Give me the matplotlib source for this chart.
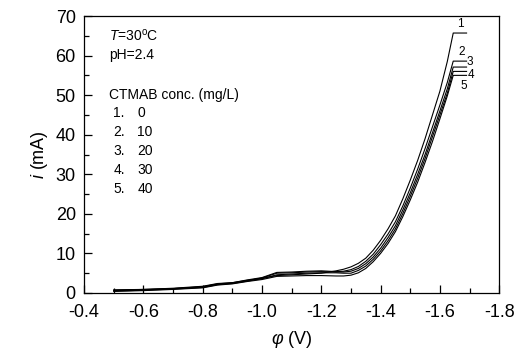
import numpy as np
import matplotlib
matplotlib.use("Agg")
import matplotlib.pyplot as plt
from matplotlib.ticker import MultipleLocator, FuncFormatter

plt.rcParams['font.family'] = ['Liberation Sans', 'DejaVu Sans']
plt.rcParams['mathtext.fontset'] = 'custom'
plt.rcParams['mathtext.rm'] = 'Liberation Sans'
plt.rcParams['mathtext.it'] = 'Liberation Sans:italic'

# potential (V)
phi = [-0.5, -0.6, -0.7, -0.8, -0.85, -0.9, -0.95, -1.0, -1.05, -1.1, -1.15,
       -1.2, -1.25, -1.275, -1.3, -1.325, -1.35, -1.375, -1.4, -1.425, -1.45,
       -1.475, -1.5, -1.525, -1.55, -1.575, -1.6, -1.625, -1.645]

# current (mA) for each CTMAB concentration
i_0 = [0.8, 0.9, 1.1, 1.6, 2.3, 2.6, 3.2, 3.7, 4.4, 4.6, 4.8, 5.0, 5.6, 6.0,
       6.6, 7.5, 8.8, 10.8, 13.3, 16.2, 19.5, 23.8, 28.5, 33.5, 39.0, 45.0,
       51.0, 58.5, 65.7]
i_10 = [0.7, 0.9, 1.2, 1.7, 2.4, 2.6, 3.3, 3.9, 5.2, 5.3, 5.5, 5.6, 5.4, 5.5,
        5.9, 6.7, 8.0, 9.8, 12.2, 14.9, 18.0, 22.0, 26.5, 31.3, 36.5, 42.0,
        47.5, 53.2, 58.6]
i_20 = [0.6, 0.8, 1.1, 1.5, 2.2, 2.5, 3.1, 3.8, 5.0, 5.1, 5.3, 5.4, 5.3, 5.3,
        5.5, 6.2, 7.4, 9.1, 11.3, 14.0, 17.0, 21.0, 25.3, 30.0, 35.0, 40.5,
        46.0, 51.6, 57.1]
i_30 = [0.5, 0.7, 1.0, 1.4, 2.1, 2.4, 3.0, 3.6, 4.6, 4.8, 5.0, 5.1, 5.1, 5.0,
        5.0, 5.7, 6.8, 8.5, 10.6, 13.2, 16.2, 20.1, 24.4, 29.0, 34.0, 39.5,
        45.0, 50.5, 56.0]
i_40 = [0.4, 0.6, 0.9, 1.3, 2.0, 2.3, 2.9, 3.4, 4.2, 4.3, 4.4, 4.4, 4.3, 4.3,
        4.5, 5.1, 6.2, 7.9, 10.0, 12.5, 15.5, 19.3, 23.5, 28.0, 33.0, 38.3,
        44.0, 49.8, 55.0]
curves = [i_0, i_10, i_20, i_30, i_40]

conc = ['0', '10', '20', '30', '40']
curve_labels = ['1', '2', '3', '4', '5']
label_x = [-1.669, -1.672, -1.702, -1.704, -1.679]
label_y = [67.9, 60.9, 58.3, 55.0, 52.3]
leader_end = -1.69

fig = plt.figure(figsize=(5.26, 3.56), dpi=100)
ax = fig.add_axes([0.160, 0.177, 0.789, 0.778])

for ys, lab, lx, ly in zip(curves, curve_labels, label_x, label_y):
    ax.plot(phi + [leader_end], ys + [ys[-1]], color='black', lw=0.8)
    ax.text(lx, ly, lab, fontsize=8.5, ha='center', va='center')

ax.set_xlim(-0.4, -1.8)
ax.set_ylim(0, 70)
ax.xaxis.set_major_locator(MultipleLocator(0.2))
ax.xaxis.set_minor_locator(MultipleLocator(0.1))
ax.yaxis.set_major_locator(MultipleLocator(10))
ax.yaxis.set_minor_locator(MultipleLocator(5))
ax.xaxis.set_major_formatter(FuncFormatter(lambda v, p: f"{v:.1f}"))
ax.tick_params(which='both', direction='in', top=False, right=False, labelsize=13)
ax.tick_params(axis='x', which='major', pad=8)
ax.tick_params(axis='y', which='major', pad=6)
ax.tick_params(which='major', length=6, width=0.9)
ax.tick_params(which='minor', length=3.5, width=0.9)
for s in ax.spines.values():
    s.set_linewidth(0.9)

ax.set_xlabel(r"$\varphi$ (V)", fontsize=13, labelpad=6)
ax.set_ylabel(r"$i$ (mA)", fontsize=13, labelpad=4)

tx = 0.060
ax.text(tx, 0.931, r"$T$=30$^{\mathrm{o}}$C", transform=ax.transAxes, fontsize=10, va='center')
ax.text(tx, 0.859, "pH=2.4", transform=ax.transAxes, fontsize=10, va='center')
ax.text(tx, 0.715, "CTMAB conc. (mg/L)", transform=ax.transAxes, fontsize=10, va='center')
for k, (lab, c) in enumerate(zip(curve_labels, conc)):
    yy = 0.650 - k * 0.069
    ax.text(0.070, yy, lab + ".", transform=ax.transAxes, fontsize=10, va='center')
    ax.text(0.128, yy, c, transform=ax.transAxes, fontsize=10, va='center')

fig.savefig("out.png", dpi=100)
